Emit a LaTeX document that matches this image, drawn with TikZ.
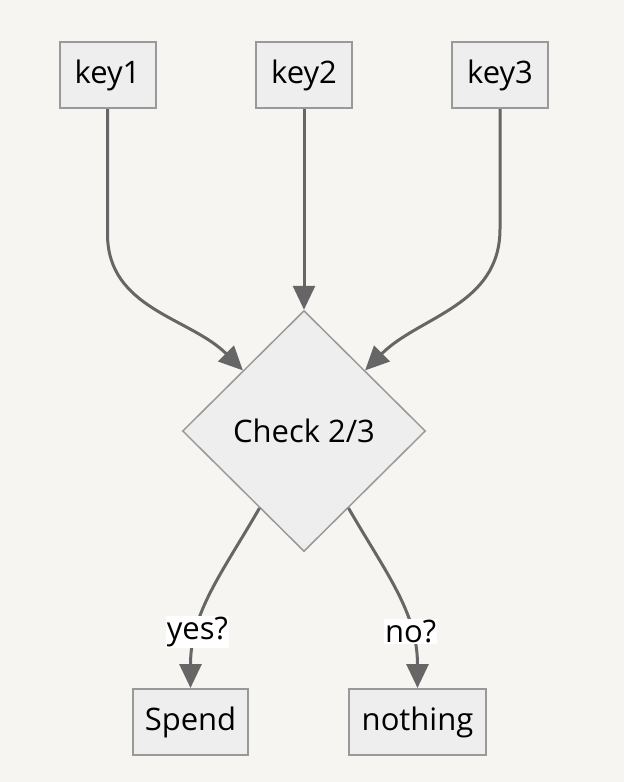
\documentclass[tikz,border=0pt]{standalone}
\usepackage{fontspec}
\setmainfont{Open Sans}
\usetikzlibrary{arrows.meta,shapes.geometric}
\definecolor{msBack}{HTML}{F6F5F1}
\definecolor{msFill}{HTML}{EEEEEE}
\definecolor{msEdge}{HTML}{999999}
\definecolor{msLine}{HTML}{666666}
\tikzset{
  keybox/.style  ={draw=msEdge,fill=msFill,line width=2pt,minimum width=96pt,
                   minimum height=66pt,inner sep=0pt,text=black,
                   font=\fontsize{31}{34}\selectfont},
  decide/.style  ={diamond,draw=msEdge,fill=msFill,line width=1.5pt,aspect=1,
                   minimum width=243pt,minimum height=241pt,inner sep=0pt,
                   text=black,font=\fontsize{31}{34}\selectfont},
  flow/.style    ={-{Triangle[length=24pt,width=22pt]},msLine,line width=3pt},
  elbl/.style    ={fill=white,inner sep=1pt,text=black,
                   font=\fontsize{31}{34}\selectfont},
}
\begin{document}
\begin{tikzpicture}[x=1pt,y=1pt]
\fill[msBack] (0,0) rectangle (624,-782);
\useasboundingbox (0,0) rectangle (624,-782);

% keys on top
\node[keybox] (k1) at (107.5,-75) {key1};
\node[keybox] (k2) at (304,-75) {key2};
\node[keybox] (k3) at (500,-75) {key3};

% the check
\node[decide] (chk) at (304,-431) {Check 2/3};

% results
\node[keybox,minimum width=115pt] (spend) at (190.5,-722) {Spend};
\node[keybox,minimum width=137pt] (none) at (417.5,-722) {nothing};

\draw[flow] (k1.south) -- ([yshift=-125pt]k1.south) to[out=-90,in=135] (chk.north west);
\draw[flow] (k2.south) -- (chk.north);
\draw[flow] (k3.south) -- ([yshift=-120pt]k3.south) to[out=-90,in=45] (chk.north east);

\draw[flow] (chk.240) to[out=-120,in=90] node[elbl,pos=0.72] {yes?} (spend.north);
\draw[flow] (chk.300) to[out=-60,in=90] node[elbl,pos=0.72] {no?} (none.north);
\end{tikzpicture}
\end{document}
